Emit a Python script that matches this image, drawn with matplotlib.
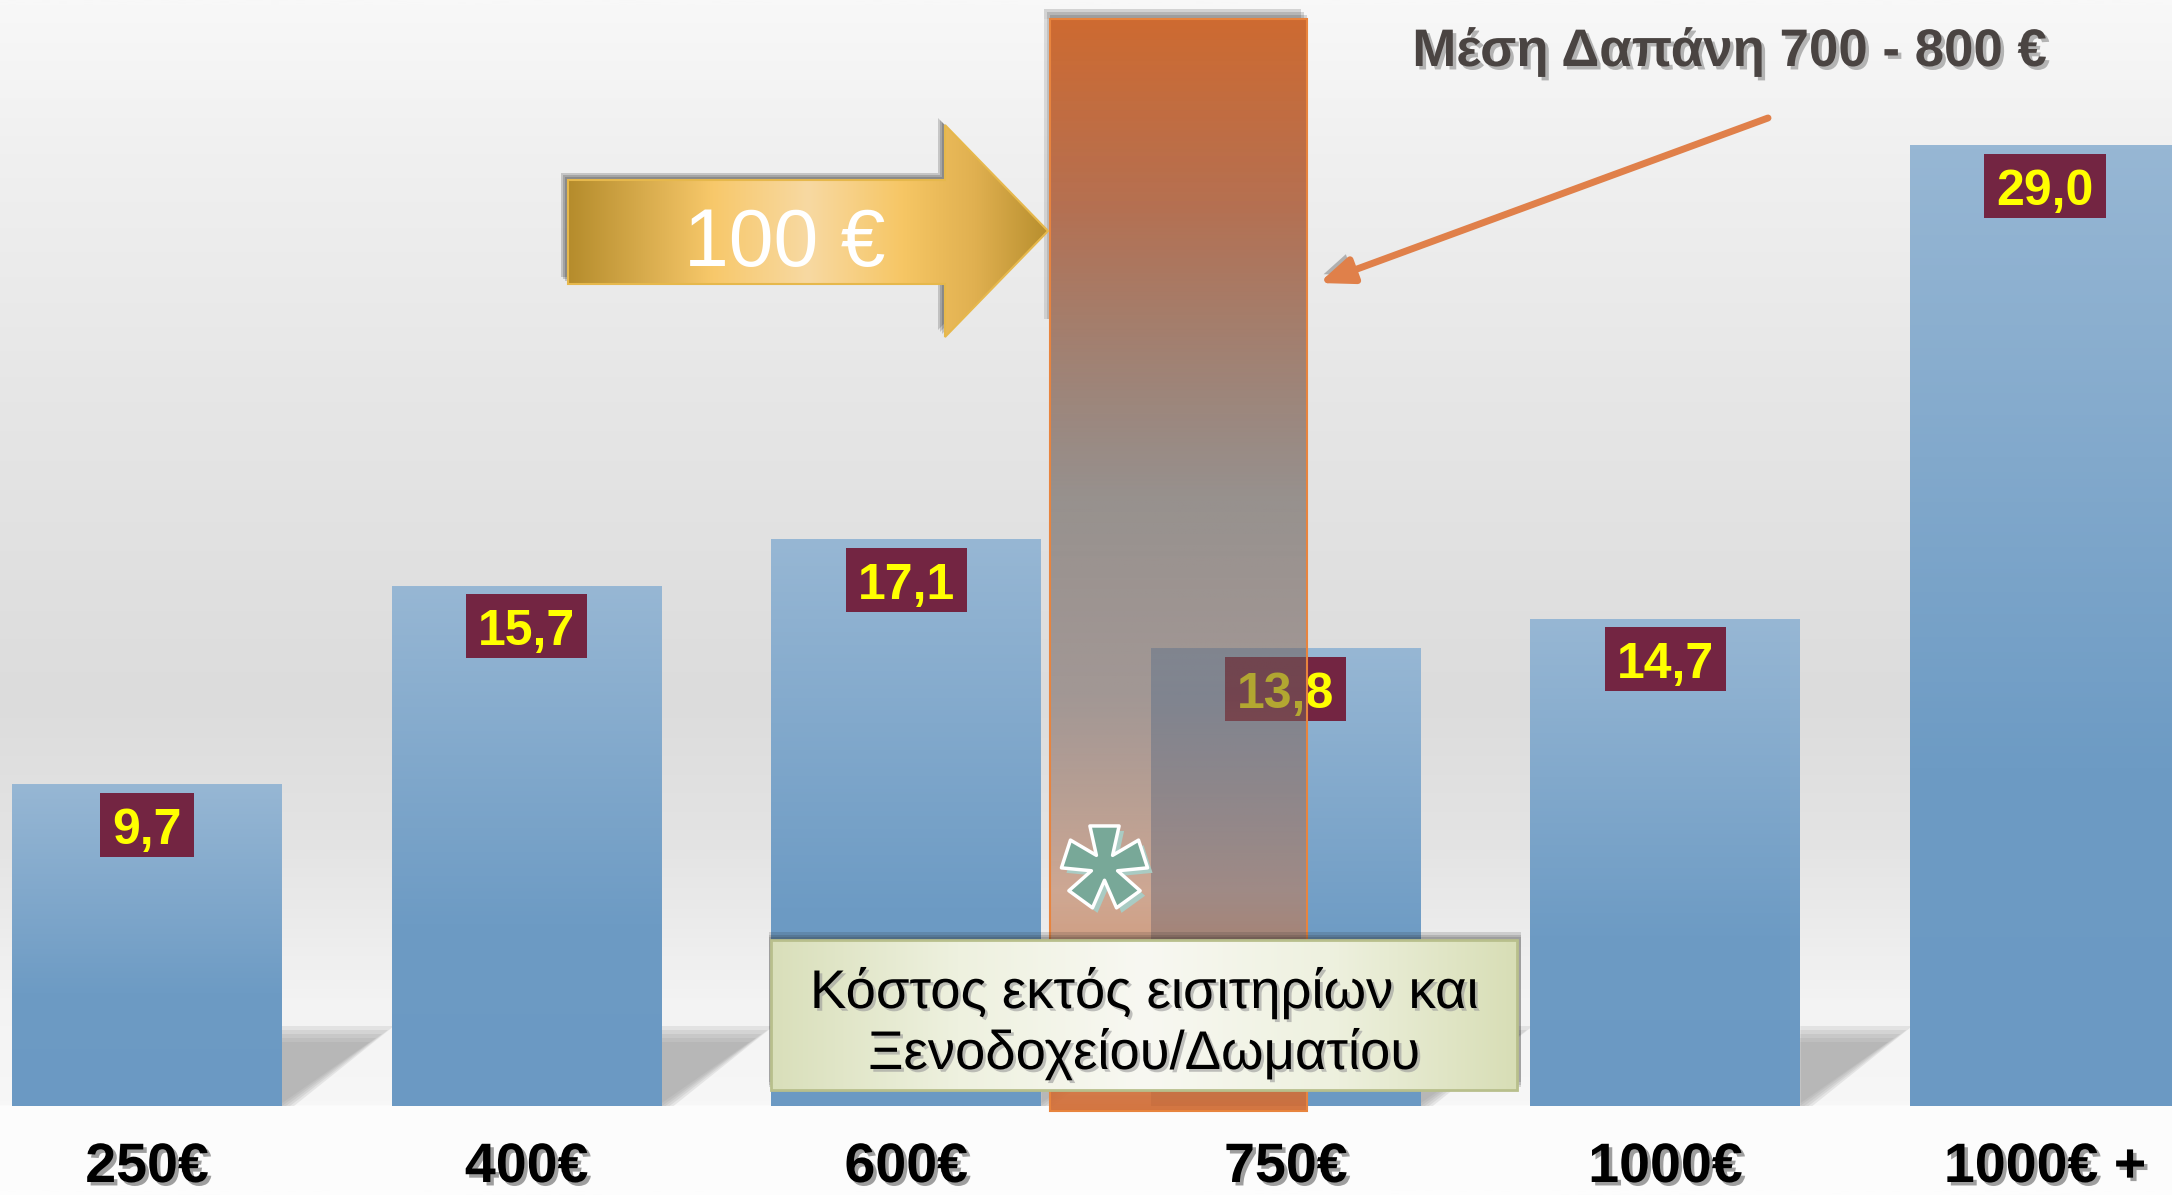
import numpy as np
import matplotlib
matplotlib.use('Agg')
import matplotlib.pyplot as plt
import matplotlib.patheffects as pe
from matplotlib.patches import Rectangle, Polygon
from matplotlib.path import Path
from matplotlib.colors import LinearSegmentedColormap

# data
categories = ['250€', '400€', '600€', '750€', '1000€', '1000€ +']
values = [9.7, 15.7, 17.1, 13.8, 14.7, 29.0]
value_labels = ['9,7', '15,7', '17,1', '13,8', '14,7', '29,0']
title_text = 'Μέση Δαπάνη 700 - 800 €'
arrow_text = '100 €'
box_lines = ['Κόστος εκτός εισιτηρίων και', 'Ξενοδοχείου/Δωματίου']

SANS = ['Liberation Sans', 'DejaVu Sans']

# layout (pixels of the 2172x1195 picture)
W, H = 2172, 1195
PX, PY = 379.6, 33.12      # px per category / px per unit
X0, FLOOR = 147, 1106      # centre of first bar, baseline (from top)
BAR_W = 0.711


def px2d(px, py):
    return (px - X0) / PX, (FLOOR - py) / PY


fig = plt.figure(figsize=(W / 100, H / 100), dpi=100)
ax = fig.add_axes([0, 0, 1, 1])
ax.set_axis_off()
renderer = fig.canvas.get_renderer()
xmin, xmax = -X0 / PX, (W - X0) / PX
ymin, ymax = -(H - FLOOR) / PY, FLOOR / PY


def fit(t, target):
    # scale font so the text is target px wide
    w = t.get_window_extent(renderer).width
    t.set_fontsize(t.get_fontsize() * target / w)


# background gradient
bg = LinearSegmentedColormap.from_list('bg', [
    (0, '#f8f8f8'), (0.126, '#f0f0f0'), (0.335, '#e6e6e6'), (0.586, '#dcdcdc'),
    (0.711, '#e4e4e4'), (0.837, '#f3f3f3'), (0.925, '#f7f7f7'), (0.929, '#fcfcfc'), (1, '#fdfdfd')])
ax.imshow(np.linspace(0, 1, 800).reshape(-1, 1), cmap=bg, extent=(xmin, xmax, ymin, ymax),
          origin='upper', aspect='auto', zorder=0)

x = np.arange(len(categories))

# floor shadows to the right of each bar
for i in x[:-1]:
    xr = i + BAR_W / 2
    for k in range(5):
        s = k * 4
        pts = [(xr, 0), (xr, (80 - s) / PY), (xr + (112 - s * 1.5) / PX, (80 - s) / PY), (xr + (12 - s) / PX, 0)]
        ax.add_patch(Polygon(pts, closed=True, facecolor='#999999', edgecolor='none', alpha=0.19, zorder=1))

# bars with vertical gradient
bars = ax.bar(x, values, width=BAR_W, color='none', edgecolor='none', zorder=2)
bar_cmap = LinearSegmentedColormap.from_list('bar', [(0, '#6b99c3'), (0.35, '#6d9bc4'), (1, '#97b7d4')])
for b in bars:
    bx, by = b.get_x(), b.get_y()
    ax.imshow(np.linspace(0, 1, 256).reshape(-1, 1), cmap=bar_cmap,
              extent=(bx, bx + b.get_width(), by, by + b.get_height()),
              origin='lower', aspect='auto', zorder=2)

# value labels
for i, (v, lab) in enumerate(zip(values, value_labels)):
    t = ax.text(i, v - 59 / PY, lab, ha='center', va='baseline', fontsize=36, fontweight='bold',
                color='#ffff00', family=SANS, zorder=3.1)
    w = t.get_window_extent(renderer).width + 24
    ax.add_patch(Rectangle((i - w / 2 / PX, v - 72 / PY), w / PX, 64 / PY,
                           facecolor='#732542', edgecolor='none', zorder=3))

# category labels
for i, c in enumerate(categories):
    ax.text(i, (FLOOR - 1194) / PY, c, ha='center', va='bottom', fontsize=40, fontweight='bold',
            color='black', family=SANS, zorder=3,
            path_effects=[pe.withSimplePatchShadow(offset=(2.5, -2.5), shadow_rgbFace='#777777', alpha=0.7)])

# highlighted band 700-800
bx0, by1 = px2d(1050, 19)
bx1, by0 = px2d(1307, 1111)
stops = np.array([0, 0.166, 0.44, 0.62, 0.80, 1.0])
cols = np.array([(206, 106, 48), (178, 102, 68), (105, 95, 90), (115, 95, 90), (190, 125, 90), (210, 110, 55)]) / 255
alph = np.array([1.0, 0.93, 0.62, 0.55, 0.6, 0.95])
tt = np.linspace(0, 1, 600)
band = np.zeros((600, 1, 4))
for ch in range(3):
    band[:, 0, ch] = np.interp(tt, stops, cols[:, ch])
band[:, 0, 3] = np.interp(tt, stops, alph)
for k in range(3):
    g = k * 3
    ax.add_patch(Rectangle((bx0 - (6 - g) / PX, by1), bx1 - bx0, (10 - g) / PY,
                           facecolor='#333333', edgecolor='none', alpha=0.18, zorder=3.5))
    ax.add_patch(Rectangle((bx0 - (6 - g) / PX, by1 - 300 / PY), (6 - g) / PX, 300 / PY,
                           facecolor='#333333', edgecolor='none', alpha=0.14, zorder=3.5))
ax.imshow(band, extent=(bx0, bx1, by0, by1), origin='upper', aspect='auto', zorder=4)
ax.add_patch(Rectangle((bx0, by0), bx1 - bx0, by1 - by0, facecolor='none', edgecolor='#e8843e', lw=1.5, zorder=4.1))

# golden block arrow
arrow_px = [(568, 284), (945, 284), (945, 337), (1048, 231), (945, 125), (945, 180), (568, 180)]
arrow_pts = [px2d(*p) for p in arrow_px]
for k in range(3):
    off = 7 - 2 * k
    sh = [(ax_ - off / PX, ay + off / PY) for ax_, ay in arrow_pts]
    ax.add_patch(Polygon(sh, closed=True, facecolor='#222222', edgecolor='none', alpha=0.2, zorder=4.8))
gold = LinearSegmentedColormap.from_list('gold', [
    (0, '#b58c2c'), (0.3, '#f7c86a'), (0.5, '#f8d9a2'), (0.7, '#f6c664'), (0.85, '#e0b050'), (1, '#b88f2e')])
poly = Polygon(arrow_pts, closed=True, facecolor='none', edgecolor='#e6b84c', lw=1.5, zorder=5.1)
ax.add_patch(poly)
axs = [p[0] for p in arrow_pts]
ays = [p[1] for p in arrow_pts]
im = ax.imshow(np.linspace(0, 1, 256).reshape(1, -1), cmap=gold,
               extent=(min(axs), max(axs), min(ays), max(ays)), aspect='auto', zorder=5)
im.set_clip_path(poly)
tx, ty = px2d(785, 266)
ax.text(tx, ty, arrow_text, ha='center', va='baseline', fontsize=58, color='white', family=SANS, zorder=5.2)

# title with pointer arrow
tx, ty = px2d(1730, 66)
t = ax.text(tx, ty, title_text, ha='center', va='baseline', fontsize=40, fontweight='bold', color='#4a4442',
            family=SANS, zorder=6,
            path_effects=[pe.withSimplePatchShadow(offset=(2.5, -2.5), shadow_rgbFace='#888888', alpha=0.6)])
fit(t, 634)
ax.annotate('', xy=px2d(1319, 283), xytext=px2d(1768, 118),
            arrowprops=dict(arrowstyle='-|>,head_length=1.0,head_width=0.4', color='#e0804a', lw=5,
                            mutation_scale=20, shrinkA=0, shrinkB=0,
                            path_effects=[pe.SimplePatchShadow(offset=(-3, 4), shadow_rgbFace='#777777', alpha=0.5),
                                          pe.Normal()]),
            zorder=5)

# asterisk
verts = []
for k in range(5):
    th = np.pi / 2 + 2 * np.pi * k / 5
    u = np.array([np.cos(th), np.sin(th)])
    p = np.array([-np.sin(th), np.cos(th)])
    verts.append(u - p * 0.36)
    verts.append(u + p * 0.36)
    th2 = th + np.pi / 5
    verts.append(np.array([np.cos(th2), np.sin(th2)]) * 0.34)
verts.append(verts[0])
star = Path(verts, closed=True)
sx, sy = px2d(1104, 866)
ax.plot([sx + 5 / PX], [sy - 5 / PY], marker=star, markersize=62, mfc='#a9cbc3', mec='none', ls='none', zorder=5.9)
ax.plot([sx], [sy], marker=star, markersize=62, mfc='#78a898', mec='white', mew=2.5, ls='none', zorder=6)

# note box
nx0, ny1 = px2d(771, 940)
nx1, ny0 = px2d(1517, 1090)
for k in range(3):
    off = 8 - 2.5 * k
    ax.add_patch(Rectangle((nx0 - 2 / PX, ny0 + off / PY), nx1 - nx0 + 6 / PX, ny1 - ny0,
                           facecolor='#222222', edgecolor='none', alpha=0.15, zorder=6.5))
note = LinearSegmentedColormap.from_list('note', [
    (0, '#d9dfba'), (0.25, '#eef1df'), (0.5, '#f8f8f2'), (0.75, '#eef1df'), (1, '#d8deb6')])
ax.imshow(np.linspace(0, 1, 256).reshape(1, -1), cmap=note, extent=(nx0, nx1, ny0, ny1),
          aspect='auto', zorder=7)
ax.add_patch(Rectangle((nx0, ny0), nx1 - nx0, ny1 - ny0, facecolor='none', edgecolor='#b8bf8c', lw=2, zorder=7.1))
cx = (nx0 + nx1) / 2
box_texts = []
for line, base in zip(box_lines, [1008, 1069]):
    box_texts.append(ax.text(cx, px2d(0, base)[1], line, ha='center', va='baseline', fontsize=43, color='black',
                             family=SANS, zorder=7.2,
                             path_effects=[pe.withSimplePatchShadow(offset=(2, -2), shadow_rgbFace='#999999', alpha=0.6)]))
fit(box_texts[0], 669)
box_texts[1].set_fontsize(box_texts[0].get_fontsize())

ax.set_xlim(xmin, xmax)
ax.set_ylim(ymin, ymax)
fig.savefig('out.png', dpi=100, facecolor='white')
